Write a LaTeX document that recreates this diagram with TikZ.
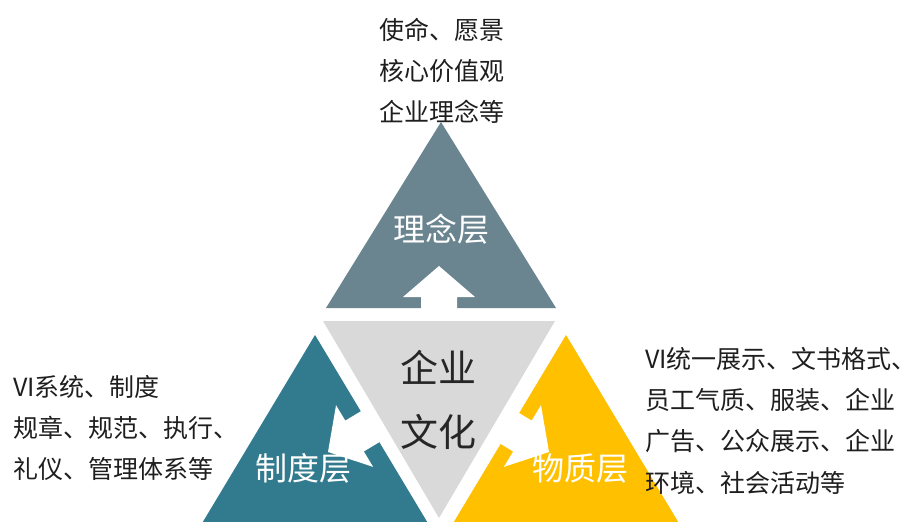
\documentclass[tikz,border=0pt]{standalone}
\usepackage{fontspec}
\setmainfont{Noto Sans CJK SC}
\definecolor{topc}{HTML}{6A8590}
\definecolor{leftc}{HTML}{327A8E}
\definecolor{rightc}{HTML}{FFC000}
\definecolor{midc}{HTML}{D9D9D9}
\definecolor{txt}{HTML}{1E1E1E}
\definecolor{midtxt}{HTML}{262626}
\tikzset{
  desc/.style={text=txt, inner sep=0pt, font=\fontsize{25}{41.3}\selectfont},
  layer/.style={text=white, inner sep=0pt, font=\fontsize{32}{38}\selectfont},
  core/.style={text=midtxt, inner sep=0pt, align=center, font=\fontsize{38}{64}\selectfont},
  arrowshape/.pic={\fill[white] (0,0) -- (36,31) -- (18,31) -- (18,52) -- (-18,52) -- (-18,31) -- (-36,31) -- cycle;}
}
\begin{document}
\begin{tikzpicture}[x=1pt,y=-1pt]
\useasboundingbox (0,0) rectangle (916,522);
\begin{scope}
\clip (0,0) rectangle (916,522);
% triangles
\fill[topc] (441,122) -- (556,308) -- (326,308) -- cycle;
\fill[midc] (323,321) -- (555,321) -- (439,518) -- cycle;
\fill[leftc] (315,335) -- (432,530) -- (198,530) -- cycle;
\fill[rightc] (566,335) -- (683,530) -- (449,530) -- cycle;
% arrows
\pic[shift={(439,266)}] {arrowshape};
\pic[shift={(328,452)}, rotate=121] {arrowshape};
\pic[shift={(549,452)}, rotate=-121] {arrowshape};
\end{scope}
% labels
\node[layer] (lnl) at (441,229) {理念层};
\node[layer] (zdc) at (303,468) {制度层};
\node[layer] (wzc) at (580,468) {物质层};
\node[core] (qywh) at (438.5,400) {企业\\文化};
% descriptions
\node[desc, align=center] (topd) at (442,71) {使命、愿景\\核心价值观\\企业理念等};
\node[desc, align=left, anchor=west] (leftd) at (13,428) {VI系统、制度\\规章、规范、执行、\\礼仪、管理体系等};
\node[desc, align=left, anchor=west] (rightd) at (645,420.5) {VI统一展示、文书格式、\\员工气质、服装、企业\\广告、公众展示、企业\\环境、社会活动等};
\end{tikzpicture}
\end{document}
